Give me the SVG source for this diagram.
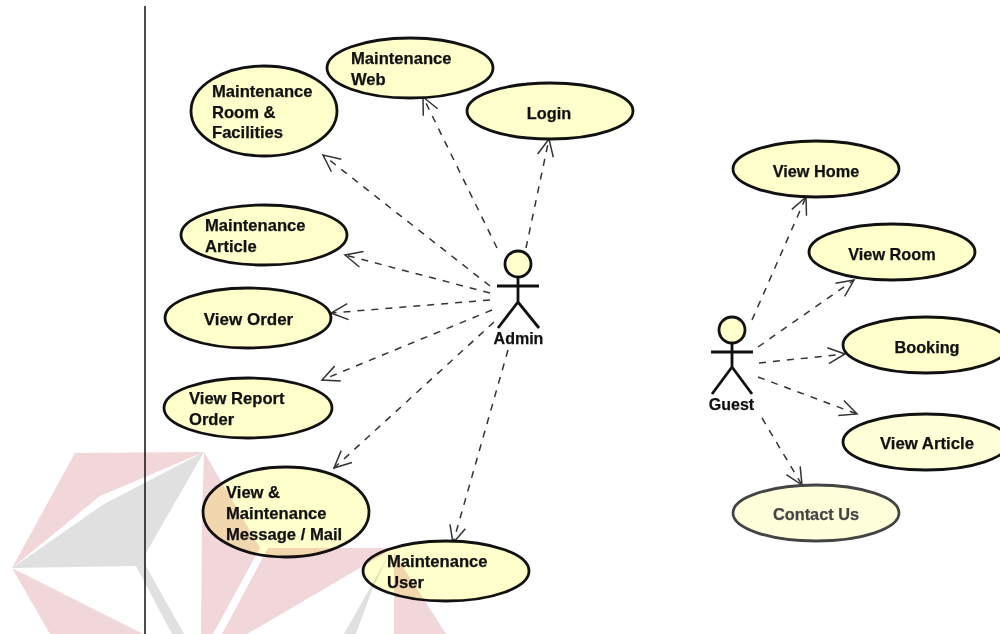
<svg xmlns="http://www.w3.org/2000/svg" width="1000" height="634" viewBox="0 0 1000 634">
<style>
.uc{fill:#ffffcc;stroke:#111;stroke-width:2.8}
.t{font-family:"Liberation Sans",Arial,sans-serif;font-weight:bold;font-size:16.6px;fill:#111;stroke:#111;stroke-width:.25}
.m{text-anchor:middle;font-size:16.3px}
.dep{fill:none;stroke:#333;stroke-width:1.5;stroke-dasharray:7 7;marker-end:url(#open)}
.act{fill:none;stroke:#111;stroke-width:2.8}
.head{fill:#ffffcc;stroke:#111;stroke-width:2.8}
.pk{fill:#f1d6da}
.gy{fill:#e0e0e0}
</style>
<defs>
<marker id="open" viewBox="-20 -10 22 20" refX="0" refY="0" markerWidth="22" markerHeight="20" markerUnits="userSpaceOnUse" orient="auto">
<path d="M-17 -8 L0 0 L-17 8" fill="none" stroke="#333" stroke-width="1.5"/>
</marker>
</defs>
<rect width="1000" height="634" fill="#fff"/>
<line x1="145" y1="6" x2="145" y2="634" stroke="#111" stroke-width="1.5"/>
<g id="connectors">
<path class="dep" d="M490 286L323 155"/>
<path class="dep" d="M497 248L423 97"/>
<path class="dep" d="M526 248L549 139"/>
<path class="dep" d="M490 293L345 255"/>
<path class="dep" d="M490 300L331 313"/>
<path class="dep" d="M492 310L322 380"/>
<path class="dep" d="M494 322L334 468"/>
<path class="dep" d="M508 350L453 543"/>
<path class="dep" d="M752 320L806 197"/>
<path class="dep" d="M758 347L854 280"/>
<path class="dep" d="M759 363L845 354"/>
<path class="dep" d="M758 377L857 414"/>
<path class="dep" d="M762 418L802 485"/>
</g>
<g id="uc-room"><ellipse class="uc" cx="264" cy="111" rx="73" ry="45"/><text class="t" x="212" y="97">Maintenance</text><text class="t" x="212" y="118">Room &amp;</text><text class="t" x="212" y="138">Facilities</text></g>
<g id="uc-web"><ellipse class="uc" cx="410" cy="68" rx="83" ry="30"/><text class="t" x="351" y="64">Maintenance</text><text class="t" x="351" y="85">Web</text></g>
<g id="uc-login"><ellipse class="uc" cx="550" cy="111" rx="83" ry="28"/><text class="t m" x="549" y="119">Login</text></g>
<g id="uc-article"><ellipse class="uc" cx="264" cy="235" rx="83" ry="30"/><text class="t" x="205" y="231">Maintenance</text><text class="t" x="205" y="252">Article</text></g>
<g id="uc-order"><ellipse class="uc" cx="248" cy="318" rx="83" ry="30"/><text class="t m" x="248.500" y="325" style="font-size:17px">View Order</text></g>
<g id="uc-report"><ellipse class="uc" cx="248" cy="408" rx="84" ry="30"/><text class="t" x="189" y="404">View Report</text><text class="t" x="189" y="425">Order</text></g>
<g id="uc-message"><ellipse class="uc" cx="286" cy="512" rx="83" ry="45"/><text class="t" x="226" y="498">View &amp;</text><text class="t" x="226" y="519">Maintenance</text><text class="t" x="226" y="540">Message / Mail</text></g>
<g id="uc-user"><ellipse class="uc" cx="446" cy="571" rx="83" ry="30"/><text class="t" x="387" y="567">Maintenance</text><text class="t" x="387" y="588">User</text></g>
<g id="uc-home"><ellipse class="uc" cx="816" cy="169" rx="83" ry="28"/><text class="t m" x="816" y="177">View Home</text></g>
<g id="uc-viewroom"><ellipse class="uc" cx="892" cy="252" rx="83" ry="28"/><text class="t m" x="892" y="260">View Room</text></g>
<g id="uc-booking"><ellipse class="uc" cx="926" cy="345" rx="83" ry="28"/><text class="t m" x="927" y="353">Booking</text></g>
<g id="uc-viewarticle"><ellipse class="uc" cx="926" cy="442" rx="83" ry="28" style="fill:#ffffd8"/><text class="t m" x="927" y="449" style="font-size:16.8px">View Article</text></g>
<g id="uc-contact"><ellipse class="uc" cx="816" cy="513" rx="83" ry="28" style="fill:#ffffdc;stroke:#444"/><text class="t m" x="816" y="520" style="fill:#444;stroke:#444">Contact Us</text></g>
<g id="actor-admin"><circle class="head" cx="518" cy="264" r="13"/><path class="act" d="M518 277V302M497 286H539M498 328L518 302L539 328"/><text class="t m" x="518.500" y="344" style="font-size:16px">Admin</text></g>
<g id="actor-guest"><circle class="head" cx="732" cy="330" r="13"/><path class="act" d="M732 343V367M711 352H753M712 394L732 367L752 394"/><text class="t m" x="731.500" y="410" style="font-size:16px">Guest</text></g>
<g id="watermark" style="mix-blend-mode:multiply">
<path class="pk" d="M75 453L204 452L100 496L12 568Z"/>
<path class="gy" d="M12 568L104 504L204 452L146 553V566H136Z"/>
<path class="gy" d="M136 566H146L184 634H172Z"/>
<path class="pk" d="M12 568L143 634H50Z"/>
<path class="pk" d="M204 452L260 548L213 634H201L202 520Z"/>
<path class="pk" d="M268 548H394L247 634H222Z"/>
<path class="pk" d="M394 553V634H446Z"/>
<path class="gy" d="M388 556L372 590L356 634H344Z"/>
</g>
</svg>
